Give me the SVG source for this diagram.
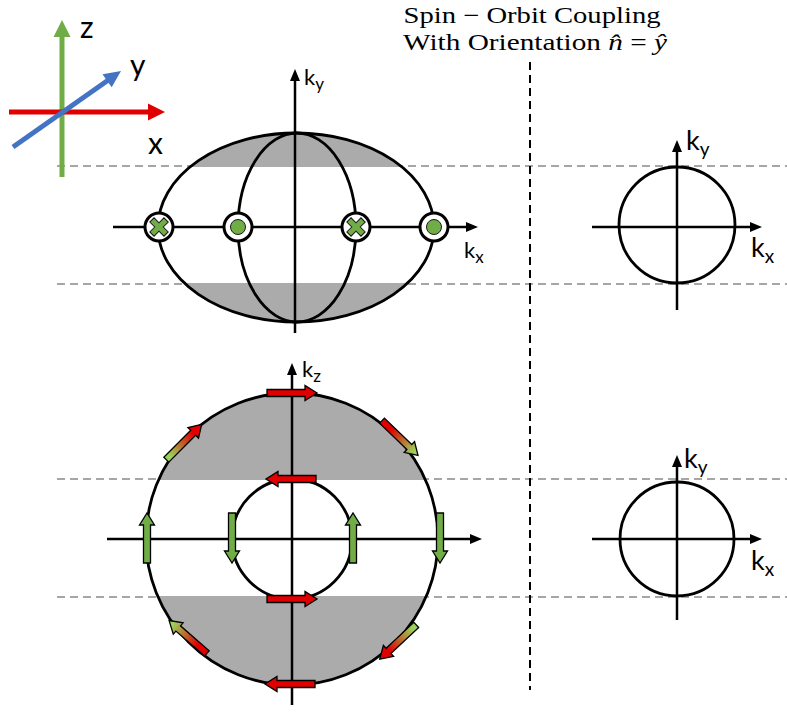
<svg xmlns="http://www.w3.org/2000/svg" xmlns:xlink="http://www.w3.org/1999/xlink" width="787" height="713" viewBox="0 0 787 713">
<style>
.ax{stroke:#000;stroke-width:2.5;fill:none}
.sh{stroke:#000;stroke-width:2.8;fill:none}
.dash{stroke:#A6A6A6;stroke-width:2;stroke-dasharray:8 5;fill:none}
.gray{fill:#ABABAB}
.lbl{font-family:Lato,"Liberation Sans",sans-serif;fill:#000}
.ttl{font-family:"Liberation Serif","DejaVu Serif",serif;font-size:23px;fill:#000}
.arr{stroke:#000;stroke-width:1.3;stroke-linejoin:miter}
</style>
<defs>
<marker id="ah" markerUnits="userSpaceOnUse" markerWidth="12" markerHeight="10" refX="2" refY="5" orient="auto">
<path d="M0,0 L12,5 L0,10 Z" fill="#000"/>
</marker>
<path id="blk" d="M-25,-3.5 L13,-3.5 L13,-7.5 L25,0 L13,7.5 L13,3.5 L-25,3.5 Z"/>
<linearGradient id="gr" gradientUnits="userSpaceOnUse" x1="-25" y1="0" x2="25" y2="0">
<stop offset="0.1" stop-color="#9BD35A"/><stop offset="0.75" stop-color="#E00000"/>
</linearGradient>
<linearGradient id="rg" gradientUnits="userSpaceOnUse" x1="-25" y1="0" x2="25" y2="0">
<stop offset="0.25" stop-color="#E00000"/><stop offset="0.9" stop-color="#9BD35A"/>
</linearGradient>
<clipPath id="cEll"><ellipse cx="296" cy="227.5" rx="138" ry="94.5"/></clipPath>
<clipPath id="cCir"><circle cx="292" cy="539" r="146"/></clipPath>
<g id="xmark">
<circle r="14" fill="#fff" stroke="#000" stroke-width="3"/>
<path transform="rotate(45)" d="M3,-10 L3,-3 L10,-3 L10,3 L3,3 L3,10 L-3,10 L-3,3 L-10,3 L-10,-3 L-3,-3 L-3,-10 Z" fill="#70AD47" stroke="#1a1a1a" stroke-width="1"/>
</g>
<g id="dmark">
<circle r="14" fill="#fff" stroke="#000" stroke-width="3"/>
<circle r="7.5" fill="#70AD47" stroke="#1a1a1a" stroke-width="1"/>
</g>
</defs>
<rect width="787" height="713" fill="#fff"/>

<g id="guides">
<line class="dash" x1="57" y1="166" x2="787" y2="166"/>
<line class="dash" x1="57" y1="284" x2="787" y2="284"/>
<line class="dash" x1="57" y1="479" x2="787" y2="479"/>
<line class="dash" x1="57" y1="597" x2="787" y2="597"/>
<line x1="530" y1="62" x2="530" y2="690" stroke="#000" stroke-width="2" stroke-dasharray="8 5"/>
</g>

<g id="xyz-axes">
<line x1="62" y1="177" x2="62" y2="35" stroke="#70AD47" stroke-width="5"/>
<polygon points="62,20 53.5,37 70.5,37" fill="#70AD47"/>
<line x1="9" y1="112" x2="150" y2="112" stroke="#E00000" stroke-width="5"/>
<polygon points="165,112 148,103.5 148,120.5" fill="#E00000"/>
<line x1="13" y1="147" x2="108" y2="80.2" stroke="#4472C4" stroke-width="5"/>
<polygon points="121,71 111.7,87.3 102.5,74.3" fill="#4472C4"/>
<text class="lbl" x="80" y="38" font-size="30">z</text>
<text class="lbl" x="130" y="76" font-size="30">y</text>
<text class="lbl" x="148" y="154" font-size="30">x</text>
</g>

<g id="title">
<text class="ttl" x="532" y="23" text-anchor="middle" textLength="257" lengthAdjust="spacingAndGlyphs">Spin − Orbit Coupling</text>
<text class="ttl" x="535" y="50" text-anchor="middle" textLength="264" lengthAdjust="spacingAndGlyphs">With Orientation <tspan font-style="italic">n̂</tspan> = <tspan font-style="italic">ŷ</tspan></text>
</g>

<g id="top-ellipse">
<ellipse cx="296" cy="227.5" rx="138" ry="94.5" fill="#fff"/>
<g clip-path="url(#cEll)">
<rect class="gray" x="150" y="130" width="300" height="37"/>
<rect class="gray" x="150" y="283" width="300" height="42"/>
</g>
<ellipse class="sh" cx="296" cy="227.5" rx="138" ry="94.5"/>
<ellipse class="sh" cx="297" cy="227.5" rx="59" ry="94.5"/>
</g>

<g id="top-axes">
<line class="ax" x1="295" y1="333" x2="295" y2="79" marker-end="url(#ah)"/>
<line class="ax" x1="113" y1="227" x2="468" y2="227" marker-end="url(#ah)"/>
<text class="lbl" x="304" y="85" font-size="22">k<tspan font-size="17" dy="5">y</tspan></text>
<text class="lbl" x="464" y="258" font-size="22">k<tspan font-size="17" dy="5">x</tspan></text>
</g>

<g id="top-markers">
<use xlink:href="#xmark" x="159" y="227"/>
<use xlink:href="#dmark" x="238" y="227"/>
<use xlink:href="#xmark" x="356" y="227"/>
<use xlink:href="#dmark" x="434" y="227"/>
</g>

<g id="bottom-circles">
<circle cx="292" cy="539" r="146" fill="#fff"/>
<g clip-path="url(#cCir)">
<rect class="gray" x="140" y="390" width="310" height="90"/>
<rect class="gray" x="140" y="596" width="310" height="95"/>
</g>
<circle class="sh" cx="292" cy="539" r="146"/>
<circle class="sh" cx="292" cy="539" r="60"/>
</g>

<g id="bottom-axes">
<line class="ax" x1="292" y1="705" x2="292" y2="373" marker-end="url(#ah)"/>
<line class="ax" x1="107" y1="539" x2="472" y2="539" marker-end="url(#ah)"/>
<text class="lbl" x="302" y="377" font-size="22">k<tspan font-size="17" dy="5">z</tspan></text>
</g>

<g id="spin-arrows">
<use xlink:href="#blk" class="arr" fill="#E00000" transform="translate(292,393)"/>
<use xlink:href="#blk" class="arr" fill="#E00000" transform="translate(291,479) rotate(180)"/>
<use xlink:href="#blk" class="arr" fill="#E00000" transform="translate(292,599)"/>
<use xlink:href="#blk" class="arr" fill="#E00000" transform="translate(290,684) rotate(180)"/>
<use xlink:href="#blk" class="arr" fill="#70AD47" transform="translate(147,538) rotate(-90)"/>
<use xlink:href="#blk" class="arr" fill="#70AD47" transform="translate(232,538) rotate(90)"/>
<use xlink:href="#blk" class="arr" fill="#70AD47" transform="translate(353,538) rotate(-90)"/>
<use xlink:href="#blk" class="arr" fill="#70AD47" transform="translate(440,538) rotate(90)"/>
<use xlink:href="#blk" class="arr" fill="url(#gr)" transform="translate(184,442) rotate(-45)"/>
<use xlink:href="#blk" class="arr" fill="url(#rg)" transform="translate(400,438) rotate(44)"/>
<use xlink:href="#blk" class="arr" fill="url(#rg)" transform="translate(188,637) rotate(221)"/>
<use xlink:href="#blk" class="arr" fill="url(#gr)" transform="translate(398,642) rotate(137)"/>
</g>

<g id="right-top">
<circle class="sh" cx="677" cy="225" r="58"/>
<line class="ax" x1="592" y1="227" x2="752" y2="227" marker-end="url(#ah)"/>
<line class="ax" x1="677" y1="310" x2="677" y2="150" marker-end="url(#ah)"/>
<text class="lbl" x="686" y="150" font-size="27">k<tspan font-size="19" dy="6">y</tspan></text>
<text class="lbl" x="751" y="257" font-size="27">k<tspan font-size="19" dy="6">x</tspan></text>
</g>

<g id="right-bottom">
<circle class="sh" cx="677" cy="539" r="57"/>
<line class="ax" x1="592" y1="539" x2="752" y2="539" marker-end="url(#ah)"/>
<line class="ax" x1="677" y1="620" x2="677" y2="465" marker-end="url(#ah)"/>
<text class="lbl" x="684" y="468" font-size="27">k<tspan font-size="19" dy="6">y</tspan></text>
<text class="lbl" x="751" y="570" font-size="27">k<tspan font-size="19" dy="6">x</tspan></text>
</g>
</svg>
